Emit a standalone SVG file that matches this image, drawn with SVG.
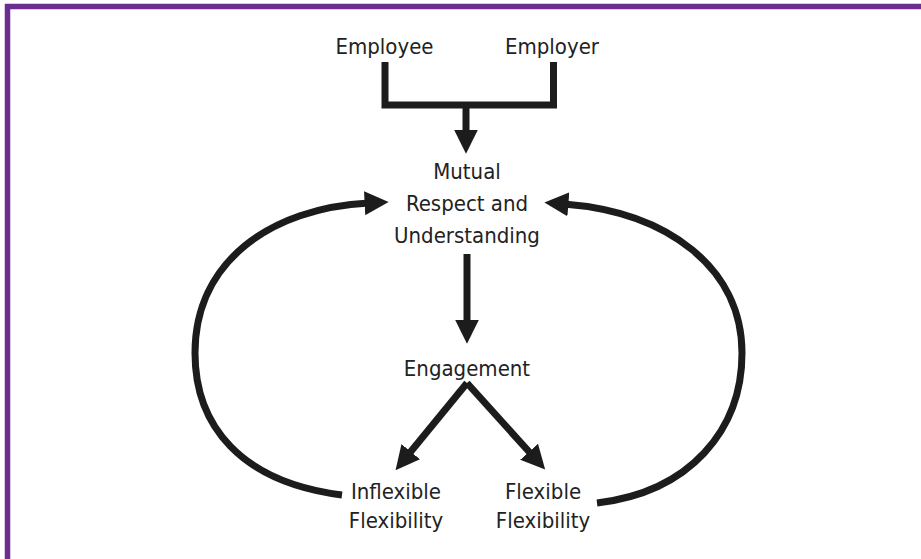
<svg xmlns="http://www.w3.org/2000/svg" width="921" height="559" viewBox="0 0 921 559">
  <style>
    .lbl { font-family: "DejaVu Sans Condensed", "DejaVu Sans", sans-serif; font-size: 22px; fill: #222; text-anchor: middle; }
    .wire { fill: none; stroke: #1c1c1c; stroke-width: 7; }
    .frame { fill: none; stroke: #6b2d8f; stroke-width: 5.5; }
  </style>
  <defs>
    <marker id="head" markerUnits="userSpaceOnUse" markerWidth="24" markerHeight="24" viewBox="0 0 22 22" refX="4" refY="11" orient="auto">
      <polygon points="0,0 22,11 0,22" fill="#1c1c1c"/>
    </marker>
  </defs>

  <!-- frame: top and left rules -->
  <path class="frame" d="M7.5 559 L7.5 6.5 L921 6.5"/>

  <g id="employee"><text class="lbl" x="384.5" y="54">Employee</text></g>
  <g id="employer"><text class="lbl" x="552" y="54">Employer</text></g>
  <g id="mutual">
    <text class="lbl" x="467" y="179">Mutual</text>
    <text class="lbl" x="467" y="211">Respect and</text>
    <text class="lbl" x="467" y="243">Understanding</text>
  </g>
  <g id="engagement"><text class="lbl" x="467" y="376">Engagement</text></g>
  <g id="inflexible">
    <text class="lbl" x="396" y="499">Inflexible</text>
    <text class="lbl" x="396" y="528">Flexibility</text>
  </g>
  <g id="flexible">
    <text class="lbl" x="543" y="499">Flexible</text>
    <text class="lbl" x="543" y="528">Flexibility</text>
  </g>

  <g id="connectors">
    <!-- bracket joining employee and employer -->
    <path class="wire" d="M385 62 L385 105 L553.5 105 L553.5 62"/>
    <path class="wire" d="M466 105 L466 134" marker-end="url(#head)"/>
    <!-- mutual respect to engagement -->
    <path class="wire" d="M467 254 L467 324" marker-end="url(#head)"/>
    <!-- engagement split -->
    <path class="wire" d="M467 383 L408 455" marker-end="url(#head)"/>
    <path class="wire" d="M467 383 L532 455" marker-end="url(#head)"/>
    <!-- feedback loops -->
    <path class="wire" d="M342 495 C240 482 195 425 195 353 C195 262 270 208 369 203" marker-end="url(#head)"/>
    <path class="wire" d="M597 503 C690 492 742 430 742 353 C742 268 668 212 564 204" marker-end="url(#head)"/>
  </g>
</svg>
